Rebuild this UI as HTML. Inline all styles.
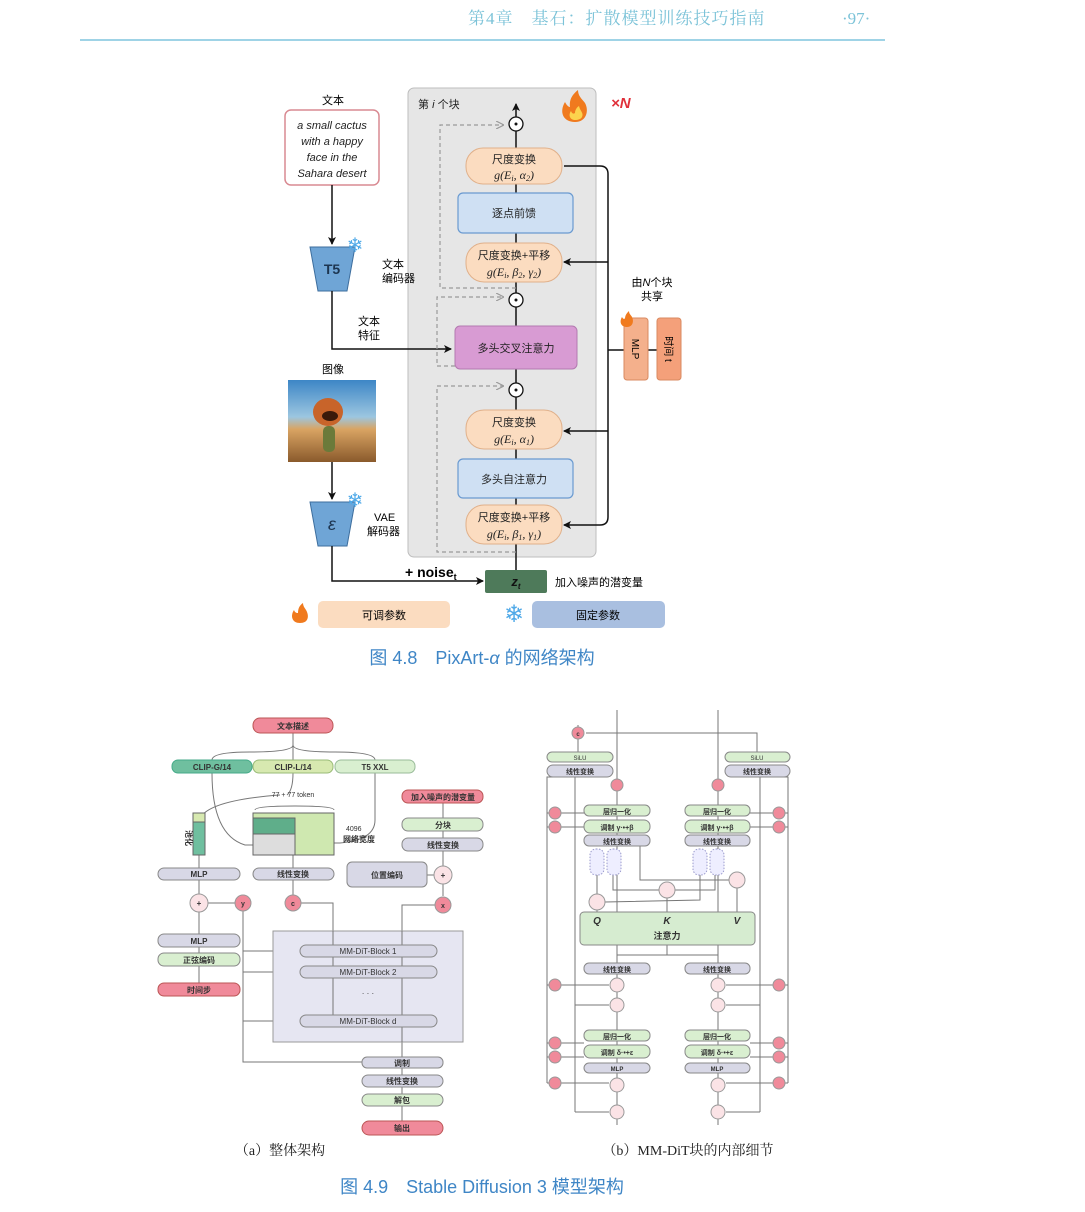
<!DOCTYPE html>
<html><head><meta charset="utf-8"><style>
html,body{margin:0;padding:0;background:#fff;}
svg{display:block;}
text{font-family:"Liberation Sans","Noto Sans CJK SC",sans-serif;}
.s{font-family:"Liberation Serif","Noto Serif CJK SC",serif;}
</style></head><body>
<svg width="1085" height="1212" viewBox="0 0 1085 1212" xmlns="http://www.w3.org/2000/svg">
<defs>
<marker id="ah" markerWidth="8" markerHeight="8" refX="7" refY="4" orient="auto" markerUnits="userSpaceOnUse"><path d="M0,0 L8,4 L0,8 L2,4 z" fill="#111"/></marker>
<marker id="ag" markerWidth="8" markerHeight="8" refX="7" refY="4" orient="auto" markerUnits="userSpaceOnUse"><path d="M0,0 L8,4 L0,8" fill="none" stroke="#999" stroke-width="1.2"/></marker>
<linearGradient id="sky" x1="0" y1="0" x2="0" y2="1"><stop offset="0" stop-color="#3d86c6"/><stop offset="0.45" stop-color="#9cc6e0"/><stop offset="0.6" stop-color="#d9a463"/><stop offset="1" stop-color="#8a5a2c"/></linearGradient>
</defs>

<!-- header -->
<text x="468" y="24" font-size="17" fill="#7cc3d8" class="s" letter-spacing="1">第4章　基石：扩散模型训练技巧指南</text>
<text x="842" y="24" font-size="17" fill="#7cc3d8" class="s">·97·</text>
<line x1="80" y1="40" x2="885" y2="40" stroke="#9fd3e6" stroke-width="2"/>

<!-- Fig 4.8 -->
<rect x="408" y="88" width="188" height="469" rx="6" fill="#e6e6e6" stroke="#bdbdbd"/>
<text x="418" y="108" font-size="11" fill="#222">第 <tspan font-style="italic">i</tspan> 个块</text>
<path d="M575,122 c-12,0 -16,-10 -10,-20 c2,4 4,5 5,5 c-1,-8 3,-13 8,-17 c0,6 4,9 7,13 c4,7 2,19 -10,19z" fill="#f07a1e"/>
<path d="M575,120 c-5,0 -7,-5 -4,-9 c1,3 3,3 4,2 c0,-3 2,-6 4,-7 c1,5 5,7 3,11 c-1,2 -4,3 -7,3z" fill="#fcd34d"/>
<text x="611" y="108" font-size="15" fill="#e0303a" font-weight="bold" font-style="italic">×N</text>

<text x="333" y="104" font-size="11" text-anchor="middle">文本</text>
<rect x="285" y="110" width="94" height="75" rx="6" fill="#fff" stroke="#d98a92" stroke-width="1.5"/>
<g font-size="11" font-style="italic" text-anchor="middle" fill="#222">
<text x="332" y="129">a small cactus</text><text x="332" y="145">with a happy</text><text x="332" y="161">face in the</text><text x="332" y="177">Sahara desert</text></g>
<line x1="332" y1="185" x2="332" y2="244" stroke="#111" stroke-width="1.5" marker-end="url(#ah)"/>
<polygon points="310,247 355,247 347,291 318,291" fill="#6fa5d6" stroke="#3d6e9e"/>
<text x="332" y="274" font-size="14" font-weight="bold" text-anchor="middle" fill="#1d3550">T5</text>
<text x="355" y="252" font-size="20" fill="#4fa9e8" text-anchor="middle">❄</text>
<text x="382" y="268" font-size="11">文本</text><text x="382" y="282" font-size="11">编码器</text>
<polyline points="332,291 332,349 451,349" fill="none" stroke="#111" stroke-width="1.5" marker-end="url(#ah)"/>
<text x="369" y="325" font-size="11" text-anchor="middle">文本</text><text x="369" y="339" font-size="11" text-anchor="middle">特征</text>

<text x="333" y="373" font-size="11" text-anchor="middle">图像</text>
<rect x="288" y="380" width="88" height="82" fill="url(#sky)"/>
<ellipse cx="328" cy="412" rx="15" ry="14" fill="#c8642a"/>
<ellipse cx="330" cy="416" rx="8" ry="5" fill="#3a1a0a"/>
<rect x="323" y="426" width="12" height="26" rx="5" fill="#6b7a3a"/>
<line x1="332" y1="462" x2="332" y2="499" stroke="#111" stroke-width="1.5" marker-end="url(#ah)"/>
<polygon points="310,502 355,502 347,546 318,546" fill="#6fa5d6" stroke="#3d6e9e"/>
<text x="332" y="530" font-size="18" text-anchor="middle" fill="#1d3550" font-style="italic">ε</text>
<text x="355" y="507" font-size="20" fill="#4fa9e8" text-anchor="middle">❄</text>
<text x="374" y="521" font-size="11">VAE</text><text x="367" y="535" font-size="11">解码器</text>
<polyline points="332,546 332,581 483,581" fill="none" stroke="#111" stroke-width="1.5" marker-end="url(#ah)"/>
<text x="405" y="577" font-size="14" font-weight="bold">+ noise<tspan font-size="9" dy="3">t</tspan></text>
<rect x="485" y="570" width="62" height="23" rx="2" fill="#4e7a5a"/>
<text x="516" y="586" font-size="13" font-weight="bold" font-style="italic" text-anchor="middle" fill="#111">z<tspan font-size="8" dy="3">t</tspan></text>
<text x="555" y="586" font-size="11">加入噪声的潜变量</text>

<!-- main spine -->
<line x1="516" y1="570" x2="516" y2="104" stroke="#111" stroke-width="1.5" marker-end="url(#ah)"/>
<!-- dashed residuals -->
<g fill="none" stroke="#9a9a9a" stroke-width="1.2" stroke-dasharray="4,3">
<polyline points="516,288 440,288 440,125 503,125" marker-end="url(#ag)"/>
<polyline points="455,366 437,366 437,297 503,297" marker-end="url(#ag)"/>
<polyline points="516,552 437,552 437,386 503,386" marker-end="url(#ag)"/>
</g>
<g fill="#fff" stroke="#111" stroke-width="1.3">
<circle cx="516" cy="124" r="7"/><circle cx="516" cy="300" r="7"/><circle cx="516" cy="390" r="7"/></g>
<g fill="#111"><circle cx="516" cy="124" r="1.5"/><circle cx="516" cy="300" r="1.5"/><circle cx="516" cy="390" r="1.5"/></g>

<g stroke="#e0b08a" stroke-width="1" fill="#fbdcc0">
<rect x="466" y="148" width="96" height="36" rx="17"/>
<rect x="466" y="243" width="96" height="39" rx="18"/>
<rect x="466" y="410" width="96" height="39" rx="18"/>
<rect x="466" y="505" width="96" height="39" rx="18"/>
</g>
<g stroke="#6a9ad0" fill="#cfe0f3" stroke-width="1.2">
<rect x="458" y="193" width="115" height="40" rx="5"/>
<rect x="458" y="459" width="115" height="39" rx="5"/>
</g>
<rect x="455" y="326" width="122" height="43" rx="5" fill="#d89bd3" stroke="#b37ab0"/>
<g font-size="11" text-anchor="middle" fill="#222">
<text x="514" y="163">尺度变换</text><text x="514" y="179" class="s" font-style="italic" font-size="12">g(E<tspan font-size="8" dy="2">i</tspan><tspan dy="-2">, α</tspan><tspan font-size="8" dy="2">2</tspan><tspan dy="-2">)</tspan></text>
<text x="514" y="217">逐点前馈</text>
<text x="514" y="259">尺度变换+平移</text><text x="514" y="276" class="s" font-style="italic" font-size="12">g(E<tspan font-size="8" dy="2">i</tspan><tspan dy="-2">, β</tspan><tspan font-size="8" dy="2">2</tspan><tspan dy="-2">, γ</tspan><tspan font-size="8" dy="2">2</tspan><tspan dy="-2">)</tspan></text>
<text x="516" y="352">多头交叉注意力</text>
<text x="514" y="426">尺度变换</text><text x="514" y="443" class="s" font-style="italic" font-size="12">g(E<tspan font-size="8" dy="2">i</tspan><tspan dy="-2">, α</tspan><tspan font-size="8" dy="2">1</tspan><tspan dy="-2">)</tspan></text>
<text x="514" y="483">多头自注意力</text>
<text x="514" y="521">尺度变换+平移</text><text x="514" y="538" class="s" font-style="italic" font-size="12">g(E<tspan font-size="8" dy="2">i</tspan><tspan dy="-2">, β</tspan><tspan font-size="8" dy="2">1</tspan><tspan dy="-2">, γ</tspan><tspan font-size="8" dy="2">1</tspan><tspan dy="-2">)</tspan></text>
</g>
<!-- right bus -->
<g fill="none" stroke="#111" stroke-width="1.5">
<path d="M564,166 L600,166 Q608,166 608,174 L608,517 Q608,525 600,525 L564,525" marker-end="url(#ah)"/>
<line x1="608" y1="262" x2="564" y2="262" marker-end="url(#ah)"/>
<line x1="608" y1="431" x2="564" y2="431" marker-end="url(#ah)"/>
<line x1="608" y1="350" x2="624" y2="350"/>
<line x1="648" y1="350" x2="657" y2="350"/>
</g>
<rect x="624" y="318" width="24" height="62" rx="3" fill="#f4b08c" stroke="#d98a60"/>
<rect x="657" y="318" width="24" height="62" rx="3" fill="#f4a07a" stroke="#d98a60"/>
<text x="636" y="349" font-size="10" text-anchor="middle" transform="rotate(90 636 349)" dy="4">MLP</text>
<text x="669" y="349" font-size="10" text-anchor="middle" transform="rotate(90 669 349)" dy="4">时间 t</text>
<path d="M627,327 c-6,0 -8,-5 -5,-10 c1,2 2,2 3,2 c0,-4 2,-6 4,-8 c0,3 2,4 3,6 c2,4 1,10 -5,10z" fill="#f07a1e"/>
<text x="652" y="286" font-size="11" text-anchor="middle">由<tspan font-style="italic">N</tspan>个块</text>
<text x="652" y="300" font-size="11" text-anchor="middle">共享</text>

<!-- legend -->
<path d="M300,623 c-8,0 -10,-7 -6,-13 c1,3 3,3 4,3 c0,-5 2,-8 5,-10 c0,4 3,6 4,9 c2,5 1,11 -7,11z" fill="#f07a1e"/>
<rect x="318" y="601" width="132" height="27" rx="5" fill="#fbdcc0"/>
<text x="384" y="619" font-size="11" text-anchor="middle">可调参数</text>
<text x="514" y="622" font-size="24" fill="#4fa9e8" text-anchor="middle">❄</text>
<rect x="532" y="601" width="133" height="27" rx="5" fill="#a9bfe0"/>
<text x="598" y="619" font-size="11" text-anchor="middle">固定参数</text>
<text x="482" y="664" font-size="18" fill="#3f86c6" text-anchor="middle">图 4.8　PixArt-<tspan font-style="italic">α</tspan> 的网络架构</text>

<!-- Fig 4.9 (a) -->
<g stroke="#777" stroke-width="1" fill="none">
<path d="M293,733 L293,745 M293,745 Q293,752 250,752 Q212,752 212,760 M293,745 L293,760 M293,745 Q293,752 335,752 Q375,752 375,760"/>
<path d="M212,773 Q212,835 245,845 L258,845 M293,773 Q293,790 287,795 M375,773 L375,820 Q375,840 340,843 L315,843"/>
<path d="M280,795 Q210,800 200,818 M255,810 Q255,806 295,806 Q334,806 334,810"/>
<line x1="199" y1="855" x2="199" y2="868"/>
<line x1="199" y1="880" x2="199" y2="894"/><line x1="199" y1="912" x2="199" y2="934"/>
<line x1="208" y1="903" x2="235" y2="903"/>
<line x1="199" y1="947" x2="199" y2="953"/><line x1="199" y1="966" x2="199" y2="983"/>
<line x1="293" y1="813" x2="293" y2="868"/><line x1="293" y1="880" x2="293" y2="895"/>
<polyline points="301,903 333,903 333,1021"/>
<line x1="443" y1="803" x2="443" y2="818"/><line x1="443" y1="831" x2="443" y2="838"/>
<line x1="443" y1="851" x2="443" y2="866"/><line x1="443" y1="884" x2="443" y2="896"/>
<line x1="427" y1="875" x2="434" y2="875"/>
<polyline points="435,905 402,905 402,1057"/>
<polyline points="243,911 243,1062 362,1062"/>
<line x1="243" y1="951" x2="300" y2="951"/><line x1="243" y1="972" x2="300" y2="972"/><line x1="243" y1="1021" x2="300" y2="1021"/>
<line x1="402" y1="1068" x2="402" y2="1075"/><line x1="402" y1="1087" x2="402" y2="1094"/><line x1="402" y1="1106" x2="402" y2="1121"/>
</g>
<rect x="273" y="931" width="190" height="111" fill="#e6e6f2" stroke="#999"/>
<g stroke="#777" stroke-width="1" fill="none"><line x1="333" y1="931" x2="333" y2="1015"/><line x1="402" y1="931" x2="402" y2="1042"/></g>
<g font-size="8" text-anchor="middle" class="s" font-weight="bold" fill="#333">
<rect x="253" y="718" width="80" height="15" rx="7" fill="#f08a9a" stroke="#b55"/><text x="293" y="729">文本描述</text>
<rect x="172" y="760" width="80" height="13" rx="6" fill="#6fbf9f" stroke="#4a8"/><text x="212" y="770">CLIP-G/14</text>
<rect x="253" y="760" width="80" height="13" rx="6" fill="#d7e9b0" stroke="#9b7"/><text x="293" y="770">CLIP-L/14</text>
<rect x="335" y="760" width="80" height="13" rx="6" fill="#d9efd0" stroke="#9b9"/><text x="375" y="770">T5 XXL</text>
<text x="293" y="797" font-weight="normal" font-size="7">77 + 77 token</text>
<rect x="193" y="813" width="12" height="42" fill="#6fbf9f" stroke="#666"/><rect x="193" y="813" width="12" height="9" fill="#d7e9b0" stroke="#666"/>
<text x="186" y="838" font-size="8" transform="rotate(90 186 838)">池化</text>
<rect x="253" y="813" width="81" height="42" fill="#cfe8b0" stroke="#666"/>
<rect x="253" y="818" width="42" height="16" fill="#5fae8a" stroke="#666"/><rect x="253" y="834" width="42" height="21" fill="#ddd" stroke="#666"/>
<text x="346" y="831" font-weight="normal" font-size="7" text-anchor="start">4096</text><text x="343" y="842" font-size="8" text-anchor="start">网络宽度</text>
<rect x="402" y="790" width="81" height="13" rx="6" fill="#f08a9a" stroke="#b55"/><text x="443" y="800">加入噪声的潜变量</text>
<rect x="402" y="818" width="81" height="13" rx="6" fill="#d9efd0" stroke="#888"/><text x="443" y="828">分块</text>
<rect x="402" y="838" width="81" height="13" rx="6" fill="#d8d8e6" stroke="#888"/><text x="443" y="848">线性变换</text>
<rect x="158" y="868" width="82" height="12" rx="6" fill="#d8d8e6" stroke="#888"/><text x="199" y="877">MLP</text>
<rect x="253" y="868" width="81" height="12" rx="6" fill="#d8d8e6" stroke="#888"/><text x="293" y="877">线性变换</text>
<rect x="347" y="862" width="80" height="25" rx="5" fill="#d8d8e6" stroke="#888"/><text x="387" y="878">位置编码</text>
<circle cx="443" cy="875" r="9" fill="#fbe3e6" stroke="#999"/><text x="443" y="878">+</text>
<circle cx="199" cy="903" r="9" fill="#fbe3e6" stroke="#999"/><text x="199" y="906">+</text>
<circle cx="243" cy="903" r="8" fill="#f08a9a" stroke="#999"/><text x="243" y="906" font-size="7">y</text>
<circle cx="293" cy="903" r="8" fill="#f08a9a" stroke="#999"/><text x="293" y="906" font-size="7">c</text>
<circle cx="443" cy="905" r="8" fill="#f08a9a" stroke="#999"/><text x="443" y="908" font-size="7">x</text>
<rect x="158" y="934" width="82" height="13" rx="6" fill="#d8d8e6" stroke="#888"/><text x="199" y="944">MLP</text>
<rect x="158" y="953" width="82" height="13" rx="6" fill="#d9efd0" stroke="#888"/><text x="199" y="963">正弦编码</text>
<rect x="158" y="983" width="82" height="13" rx="6" fill="#f08a9a" stroke="#b55"/><text x="199" y="993">时间步</text>
<rect x="300" y="945" width="137" height="12" rx="6" fill="#d8d8e6" stroke="#888"/><text x="368" y="954" font-weight="normal">MM-DiT-Block 1</text>
<rect x="300" y="966" width="137" height="12" rx="6" fill="#d8d8e6" stroke="#888"/><text x="368" y="975" font-weight="normal">MM-DiT-Block 2</text>
<text x="368" y="996" font-weight="normal">· · ·</text>
<rect x="300" y="1015" width="137" height="12" rx="6" fill="#d8d8e6" stroke="#888"/><text x="368" y="1024" font-weight="normal">MM-DiT-Block d</text>
<rect x="362" y="1057" width="81" height="11" rx="5" fill="#d8d8e6" stroke="#888"/><text x="402" y="1066">调制</text>
<rect x="362" y="1075" width="81" height="12" rx="6" fill="#d8d8e6" stroke="#888"/><text x="402" y="1084">线性变换</text>
<rect x="362" y="1094" width="81" height="12" rx="6" fill="#d9efd0" stroke="#888"/><text x="402" y="1103">解包</text>
<rect x="362" y="1121" width="81" height="14" rx="7" fill="#f08a9a" stroke="#b55"/><text x="402" y="1131">输出</text>
</g>
<text x="280" y="1155" font-size="14" class="s" text-anchor="middle" fill="#222">（a）整体架构</text>

<!-- Fig 4.9 (b) -->
<g stroke="#777" stroke-width="1" fill="none">
<line x1="617" y1="710" x2="617" y2="1125"/><line x1="718" y1="710" x2="718" y2="1125"/>
<polyline points="578,725 578,752"/><polyline points="586,733 757,733 757,752"/>
<polyline points="580,777 547,777 547,1083"/><polyline points="580,777 575,777 575,1112"/>
<polyline points="757,777 788,777 788,1083"/><polyline points="757,777 760,777 760,1112"/>
<line x1="547" y1="813" x2="584" y2="813"/><line x1="547" y1="827" x2="584" y2="827"/>
<line x1="788" y1="813" x2="750" y2="813"/><line x1="788" y1="827" x2="750" y2="827"/>
<line x1="547" y1="985" x2="609" y2="985"/><line x1="788" y1="985" x2="726" y2="985"/>
<line x1="575" y1="1005" x2="609" y2="1005"/><line x1="760" y1="1005" x2="726" y2="1005"/>
<line x1="547" y1="1043" x2="584" y2="1043"/><line x1="547" y1="1057" x2="584" y2="1057"/>
<line x1="788" y1="1043" x2="750" y2="1043"/><line x1="788" y1="1057" x2="750" y2="1057"/>
<line x1="547" y1="1083" x2="609" y2="1083"/><line x1="788" y1="1083" x2="726" y2="1083"/>
<line x1="575" y1="1112" x2="609" y2="1112"/><line x1="760" y1="1112" x2="726" y2="1112"/>
<polyline points="597,875 597,895"/><polyline points="613,875 613,890 660,890"/>
<polyline points="640,845 640,880 730,880"/><polyline points="737,888 737,912"/>
<polyline points="700,875 700,900 605,902"/><polyline points="715,875 715,890 675,890"/>
<line x1="597" y1="910" x2="597" y2="912"/><line x1="667" y1="898" x2="667" y2="912"/>
<polyline points="667,945 667,955 617,955 617,963"/><polyline points="667,955 718,955 718,963"/>
</g>
<g font-size="7" text-anchor="middle" class="s" font-weight="bold" fill="#333">
<circle cx="578" cy="733" r="6" fill="#f08a9a" stroke="#999"/><text x="578" y="736" font-size="6">c</text>
<rect x="547" y="752" width="66" height="10" rx="5" fill="#d9efd0" stroke="#888"/><text x="580" y="760" font-size="6" font-weight="normal">SiLU</text>
<rect x="547" y="765" width="66" height="12" rx="6" fill="#d8d8e6" stroke="#888"/><text x="580" y="774">线性变换</text>
<rect x="725" y="752" width="65" height="10" rx="5" fill="#d9efd0" stroke="#888"/><text x="757" y="760" font-size="6" font-weight="normal">SiLU</text>
<rect x="725" y="765" width="65" height="12" rx="6" fill="#d8d8e6" stroke="#888"/><text x="757" y="774">线性变换</text>
<circle cx="617" cy="785" r="6" fill="#f08a9a" stroke="#999"/><circle cx="718" cy="785" r="6" fill="#f08a9a" stroke="#999"/>
<rect x="584" y="805" width="66" height="11" rx="5" fill="#d9efd0" stroke="#888"/><text x="617" y="814">层归一化</text>
<rect x="685" y="805" width="65" height="11" rx="5" fill="#d9efd0" stroke="#888"/><text x="717" y="814">层归一化</text>
<rect x="584" y="820" width="66" height="13" rx="6" fill="#d9efd0" stroke="#888"/><text x="617" y="830">调制 γ·•+β</text>
<rect x="685" y="820" width="65" height="13" rx="6" fill="#d9efd0" stroke="#888"/><text x="717" y="830">调制 γ·•+β</text>
<rect x="584" y="835" width="66" height="11" rx="5" fill="#d8d8e6" stroke="#888"/><text x="617" y="844">线性变换</text>
<rect x="685" y="835" width="65" height="11" rx="5" fill="#d8d8e6" stroke="#888"/><text x="717" y="844">线性变换</text>
<g fill="#eef" stroke="#99c" stroke-dasharray="1.5,1.5">
<rect x="590" y="849" width="14" height="26" rx="6"/><rect x="607" y="849" width="14" height="26" rx="6"/>
<rect x="693" y="849" width="14" height="26" rx="6"/><rect x="710" y="849" width="14" height="26" rx="6"/></g>
<circle cx="737" cy="880" r="8" fill="#fbe3e6" stroke="#999"/><circle cx="667" cy="890" r="8" fill="#fbe3e6" stroke="#999"/><circle cx="597" cy="902" r="8" fill="#fbe3e6" stroke="#999"/>
<rect x="580" y="912" width="175" height="33" rx="4" fill="#d6ecd0" stroke="#888"/>
<text x="597" y="924" font-size="10" font-style="italic">Q</text><text x="667" y="924" font-size="10" font-style="italic">K</text><text x="737" y="924" font-size="10" font-style="italic">V</text>
<text x="667" y="939" font-size="9">注意力</text>
<rect x="584" y="963" width="66" height="11" rx="5" fill="#d8d8e6" stroke="#888"/><text x="617" y="972">线性变换</text>
<rect x="685" y="963" width="65" height="11" rx="5" fill="#d8d8e6" stroke="#888"/><text x="717" y="972">线性变换</text>
<rect x="584" y="1030" width="66" height="11" rx="5" fill="#d9efd0" stroke="#888"/><text x="617" y="1039">层归一化</text>
<rect x="685" y="1030" width="65" height="11" rx="5" fill="#d9efd0" stroke="#888"/><text x="717" y="1039">层归一化</text>
<rect x="584" y="1045" width="66" height="13" rx="6" fill="#d9efd0" stroke="#888"/><text x="617" y="1055">调制 δ·•+ε</text>
<rect x="685" y="1045" width="65" height="13" rx="6" fill="#d9efd0" stroke="#888"/><text x="717" y="1055">调制 δ·•+ε</text>
<rect x="584" y="1063" width="66" height="10" rx="5" fill="#d8d8e6" stroke="#888"/><text x="617" y="1071" font-size="6">MLP</text>
<rect x="685" y="1063" width="65" height="10" rx="5" fill="#d8d8e6" stroke="#888"/><text x="717" y="1071" font-size="6">MLP</text>
<g fill="#fbe3e6" stroke="#999">
<circle cx="617" cy="985" r="7"/><circle cx="718" cy="985" r="7"/><circle cx="617" cy="1005" r="7"/><circle cx="718" cy="1005" r="7"/>
<circle cx="617" cy="1085" r="7"/><circle cx="718" cy="1085" r="7"/><circle cx="617" cy="1112" r="7"/><circle cx="718" cy="1112" r="7"/></g>
<g fill="#f08a9a" stroke="#999">
<circle cx="555" cy="813" r="6"/><circle cx="555" cy="827" r="6"/><circle cx="555" cy="985" r="6"/><circle cx="555" cy="1043" r="6"/><circle cx="555" cy="1057" r="6"/><circle cx="555" cy="1083" r="6"/>
<circle cx="779" cy="813" r="6"/><circle cx="779" cy="827" r="6"/><circle cx="779" cy="985" r="6"/><circle cx="779" cy="1043" r="6"/><circle cx="779" cy="1057" r="6"/><circle cx="779" cy="1083" r="6"/></g>
</g>
<text x="688" y="1155" font-size="14" class="s" text-anchor="middle" fill="#222">（b）MM-DiT块的内部细节</text>

<text x="482" y="1193" font-size="18" fill="#3f86c6" text-anchor="middle">图 4.9　Stable Diffusion 3 模型架构</text>
</svg>
</body></html>
